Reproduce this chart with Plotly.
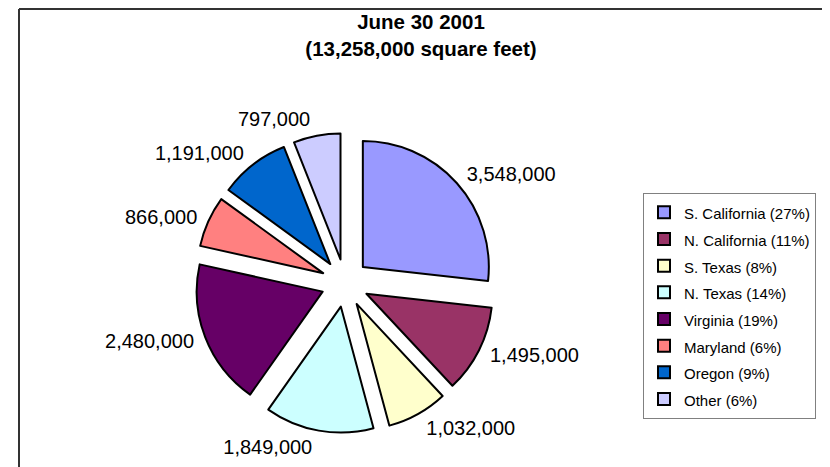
import plotly.graph_objects as go

# Office space by region, square feet (June 30 2001)
regions = ["S. California", "N. California", "S. Texas", "N. Texas",
           "Virginia", "Maryland", "Oregon", "Other"]
sq_feet = [3548000, 1495000, 1032000, 1849000, 2480000, 866000, 1191000, 797000]
shares = [27, 11, 8, 14, 19, 6, 9, 6]

COLORS = ["#9999FF", "#993366", "#FFFFCC", "#CCFFFF",
          "#660066", "#FF8080", "#0066CC", "#CCCCFF"]
FONT = "Liberation Sans, Arial, sans-serif"

# the page body has an 8px margin, so the figure is shrunk to fit the window
OFF = 8
W, H = 830 - OFF, 467 - OFF


def px(x):
    """page pixel x -> paper fraction"""
    return (x - OFF) / W


def py(y):
    """page pixel y (from top) -> paper fraction"""
    return 1 - (y - OFF) / H


CX, CY = 345, 283          # pie centre on the page
R, PULL = 126, 0.19        # slice radius and explosion
R_LABEL = 156              # radius the value labels sit outside of

legend_labels = [f"<span style='font-size:15px'>{r} ({s}%)</span>"
                 for r, s in zip(regions, shares)]

half = R * (1 + PULL)
fig = go.Figure()

# exploded slices
fig.add_trace(go.Pie(
    labels=legend_labels,
    values=sq_feet,
    sort=False,
    direction="clockwise",
    rotation=0,
    pull=PULL,
    marker=dict(colors=COLORS, line=dict(color="black", width=2)),
    textinfo="none",
    domain=dict(x=[px(CX - half), px(CX + half)], y=[py(CY + half), py(CY - half)]),
    hoverinfo="skip",
))

# transparent copy, a bit larger, that only carries the value labels
fig.add_trace(go.Pie(
    labels=regions,
    values=sq_feet,
    sort=False,
    direction="clockwise",
    rotation=0,
    marker=dict(colors=["rgba(0,0,0,0)"] * len(regions), line=dict(width=0)),
    texttemplate="%{value:,}",
    textposition="outside",
    outsidetextfont=dict(size=20, color="black", family=FONT),
    domain=dict(x=[px(CX - R_LABEL), px(CX + R_LABEL)],
                y=[py(CY + R_LABEL), py(CY - R_LABEL)]),
    showlegend=False,
    hoverinfo="skip",
))

fig.update_layout(
    width=W, height=H,
    paper_bgcolor="white",
    margin=dict(l=0, r=0, t=0, b=0),
    font=dict(family=FONT, color="black"),
    title=dict(
        text="<b>June 30 2001<br>(13,258,000 square feet)</b>",
        font=dict(size=20.5, color="black"),
        x=px(421), xanchor="center",
        yref="container", y=py(29), yanchor="top",
    ),
    legend=dict(
        x=px(643), xanchor="left",
        y=py(193), yanchor="top",
        font=dict(size=18.2),
        bordercolor="#808080", borderwidth=1,
        bgcolor="white",
        traceorder="normal",
    ),
    shapes=[
        dict(type="line", xref="paper", yref="paper",
             x0=px(19), x1=1, y0=py(9), y1=py(9),
             line=dict(color="#333333", width=2)),
        dict(type="line", xref="paper", yref="paper",
             x0=px(19), x1=px(19), y0=0, y1=py(9),
             line=dict(color="#333333", width=2)),
    ],
)

fig.write_html("out.html")
